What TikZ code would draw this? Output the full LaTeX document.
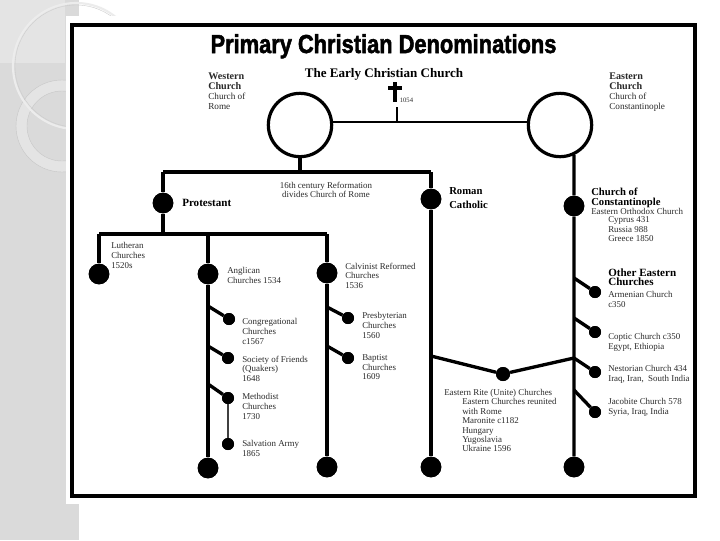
\documentclass[tikz,border=0pt]{standalone}
\usepackage{fontspec}
\setmainfont{Liberation Serif}
\newfontfamily\titlefont[BoldFeatures={FakeBold=2.2}]{Liberation Sans}
\definecolor{strip}{HTML}{DADADA}
\definecolor{stripl}{HTML}{E4E4E4}
\definecolor{txt}{HTML}{2A2A2A}
\begin{document}
\begin{tikzpicture}[x=0.75pt,y=-0.75pt,
  lbl/.style={anchor=north west, inner sep=0pt, align=left, text=txt, font=\fontsize{6.7}{7.2}\selectfont},
  blbl/.style={anchor=north west, inner sep=0pt, align=left, font=\fontsize{8}{7.5}\selectfont\bfseries},
  trunk/.style={line width=2.5pt},
  thinlink/.style={line width=1.5pt},
  bigdot/.style={circle, fill=black, minimum size=15.5pt, inner sep=0pt},
  smalldot/.style={circle, fill=black, minimum size=9pt, inner sep=0pt},
  ring/.style={circle, draw=black, line width=2.4pt, minimum size=47.5pt, inner sep=0pt}
]
% ---------- background ----------
\fill[white] (0,0) rectangle (720,540);
\fill[strip] (0,0) rectangle (79,540);
\fill[stripl] (0,0) rectangle (65,63);
\fill[stripl, even odd rule] (62,126) circle[radius=46] (62,126) circle[radius=35];
\draw[gray!45, line width=0.3pt] (62,126) circle[radius=46] (62,126) circle[radius=35];
\draw[white!85!gray, line width=1.6pt] (76,66) circle[radius=63];
\draw[gray!40, line width=0.3pt] (76,66) circle[radius=61];
\fill[white] (66,16) rectangle (720,504);
\useasboundingbox (0,0) rectangle (720,540);
% ---------- frame ----------
\draw[line width=2.3pt] (72,25) rectangle (695,496);
% ---------- titles ----------
\node[anchor=base, inner sep=0pt, font=\titlefont\fontsize{19.5}{20}\selectfont\bfseries] (title) at (383.5,53) {\scalebox{0.84}[1]{Primary Christian Denominations}};
\node[anchor=base, inner sep=0pt, font=\fontsize{9.8}{11}\selectfont\bfseries] (early) at (384,77.5) {The Early Christian Church};
\node[anchor=north west, inner sep=0pt, align=left, text=txt, font=\fontsize{6.9}{7.3}\selectfont] (wlab) at (208,73) {{\fontsize{7.6}{7.3}\selectfont\bfseries Western}\\{\fontsize{7.6}{7.3}\selectfont\bfseries Church}\\Church of\\Rome};
\node[anchor=north west, inner sep=0pt, align=left, text=txt, font=\fontsize{6.9}{7.3}\selectfont] (elab) at (609,73) {{\fontsize{7.6}{7.3}\selectfont\bfseries Eastern}\\{\fontsize{7.6}{7.3}\selectfont\bfseries Church}\\Church of\\Constantinople};
% cross
\draw[line width=3.2pt] (395,82) -- (395,102);
\draw[line width=2.4pt] (388,88) -- (402,88);
\node[anchor=west, inner sep=0pt, text=txt, font=\fontsize{5}{6}\selectfont] (yr) at (399.5,100) {1054};
% ---------- circles ----------
\node[ring] (west) at (300,125) {};
\node[ring] (east) at (560,125) {};
\coordinate (crossbot) at (397,107);
\coordinate (jc) at (397,122);
\draw[thinlink] (west.5) -- (east.175);
\draw[line width=0.9pt] (crossbot) -- (jc);
% ---------- main junctions ----------
\coordinate (jw) at (300,172);
\coordinate (jl) at (163,172);
\coordinate (jr) at (431,172);
\coordinate (jp) at (163,234);
\coordinate (jlu) at (99,234);
\coordinate (jan) at (208,234);
\coordinate (jca) at (327,234);
% dots (positions)
\node[bigdot] (prot) at (163,203) {};
\node[bigdot] (rc) at (431,199) {};
\node[bigdot] (rcb) at (431,467) {};
\node[bigdot] (orth) at (574,206) {};
\node[bigdot] (orthb) at (574,467) {};
\node[bigdot] (luth) at (99,274) {};
\node[bigdot] (angl) at (208,274) {};
\node[bigdot] (anglb) at (208,468) {};
\node[bigdot] (calv) at (327,273) {};
\node[bigdot] (calvb) at (327,467) {};
\node[smalldot] (cong) at (229,319) {};
\node[smalldot] (quak) at (228,358) {};
\node[smalldot] (meth) at (228,398) {};
\node[smalldot] (salv) at (228,444) {};
\node[smalldot] (pres) at (348,318) {};
\node[smalldot] (bapt) at (348,358) {};
\node[smalldot] (arm) at (595,292) {};
\node[smalldot] (copt) at (595,332) {};
\node[smalldot] (nest) at (595,372) {};
\node[smalldot] (jac) at (595,412) {};
\node[circle, fill=black, minimum size=10.5pt, inner sep=0pt] (rite) at (503,374) {};
% branch points
\coordinate (b1) at (208,306);
\coordinate (b2) at (208,346);
\coordinate (b3) at (208,384);
\coordinate (c1) at (327,307);
\coordinate (c2) at (327,346);
\coordinate (e1) at (574,278);
\coordinate (e2) at (574,318);
\coordinate (e3) at (574,358);
\coordinate (e4) at (574,390);
\coordinate (r1) at (431,356);
% ---------- connectors ----------
\draw[trunk] (west.south) -- (jw);
\draw[trunk] (jl) -- (jr);
\draw[trunk] (jl) -- (prot) -- (jp);
\draw[trunk] (jlu) -- (jca);
\draw[trunk] (jlu) -- (luth);
\draw[trunk] (jan) -- (angl) -- (anglb);
\draw[trunk] (jca) -- (calv) -- (calvb);
\draw[trunk] (jr) -- (rc) -- (rcb);
\draw[trunk] (east.-65) -- (orth) -- (orthb);
\draw[trunk] (b1) -- (cong);
\draw[trunk] (b2) -- (quak);
\draw[trunk] (b3) -- (meth);
\draw[line width=1.6pt, black!75] (meth) -- (salv);
\draw[trunk] (c1) -- (pres);
\draw[trunk] (c2) -- (bapt);
\draw[trunk] (e1) -- (arm);
\draw[trunk] (e2) -- (copt);
\draw[trunk] (e3) -- (nest);
\draw[trunk] (e4) -- (jac);
\draw[trunk] (r1) -- (rite) -- (e3);
% redraw dots on top
\foreach \n in {prot,rc,rcb,orth,orthb,luth,angl,anglb,calv,calvb}
  \fill (\n) circle[radius=10.3];
\foreach \n in {cong,quak,meth,salv,pres,bapt,arm,copt,nest,jac}
  \fill (\n) circle[radius=6];
\fill (rite) circle[radius=7];
% ---------- labels ----------
\node[anchor=north, inner sep=0pt, align=center, text=txt, font=\fontsize{6.7}{7.0}\selectfont] (ref) at (326,182) {16th century Reformation\\divides Church of Rome};
\node[anchor=west, inner sep=0pt, font=\fontsize{8.3}{9}\selectfont\bfseries] (protl) at (182,203) {Protestant};
\node[blbl, font=\fontsize{8}{10.5}\selectfont\bfseries] (rcl) at (449,187.5) {Roman\\Catholic};
\node[blbl] (constl) at (591,187.5) {Church of\\Constantinople};
\node[lbl] (orthl) at (591,208.5) {Eastern Orthodox Church};
\node[lbl] (orthd) at (608,216.5) {Cyprus 431\\Russia 988\\Greece 1850};
\node[blbl, font=\fontsize{8.3}{7}\selectfont\bfseries] (otherl) at (608,268.5) {Other Eastern\\Churches};
\node[lbl] (arml) at (608,291.5) {Armenian Church\\c350};
\node[lbl] (coptl) at (608,333.5) {Coptic Church c350\\Egypt, Ethiopia};
\node[lbl] (nestl) at (608,365.5) {Nestorian Church 434\\Iraq, Iran,\ \ South India};
\node[lbl] (jacl) at (608,398.5) {Jacobite Church 578\\Syria, Iraq, India};
\node[lbl] (ritel) at (444,389.5) {Eastern Rite (Unite) Churches};
\node[lbl, font=\fontsize{6.7}{7.05}\selectfont] (rited) at (462,398.5) {Eastern Churches reunited\\with Rome\\Maronite c1182\\Hungary\\Yugoslavia\\Ukraine 1596};
\node[lbl] (luthl) at (111,242.5) {Lutheran\\Churches\\1520s};
\node[lbl] (angll) at (227,267.5) {Anglican\\Churches 1534};
\node[lbl] (congl) at (242,318.5) {Congregational\\Churches\\c1567};
\node[lbl] (quakl) at (242,355.5) {Society of Friends\\(Quakers)\\1648};
\node[lbl] (methl) at (242,393.5) {Methodist\\Churches\\1730};
\node[lbl] (salvl) at (242,440.5) {Salvation Army\\1865};
\node[lbl] (calvl) at (345,262.5) {Calvinist Reformed\\Churches\\1536};
\node[lbl] (presl) at (362,312.5) {Presbyterian\\Churches\\1560};
\node[lbl] (baptl) at (362,354.5) {Baptist\\Churches\\1609};
\end{tikzpicture}
\end{document}
